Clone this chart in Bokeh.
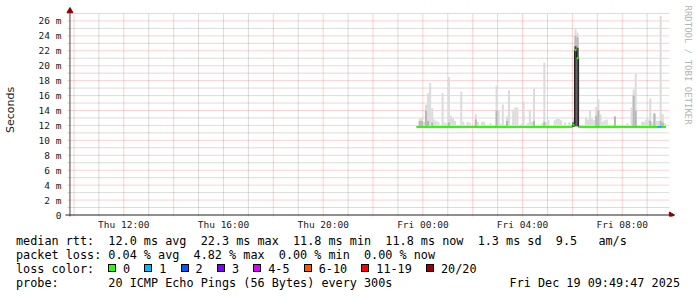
import math
from bokeh.plotting import figure
from bokeh.layouts import column
from bokeh.models import FixedTicker, Range1d, Div
from bokeh.core.properties import value
from bokeh.embed import file_html
from bokeh.resources import INLINE

# ---------------- data ----------------
# time is in hours since Thu Dec 18 2025 00:00
view_start_h = 9 + 49 / 60 + 47 / 3600      # Thu 09:49:47
view_end_h = view_start_h + 24              # Fri 09:49:47
first_step_h = 23.75                        # Thu 23:45
step_h = 5 / 60                             # 300 s steps

x_tick_hours = [12, 16, 20, 24, 28, 32]
x_tick_labels = ["Thu 12:00", "Thu 16:00", "Thu 20:00", "Fri 00:00", "Fri 04:00", "Fri 08:00"]
x_grid_major_h = [10, 12, 14, 16, 18, 20, 22, 24, 26, 28, 30, 32]
x_grid_minor_h = [11, 13, 15, 17, 19, 21, 23, 25, 27, 29, 31, 33]
y_ticks_ms = [0, 2, 4, 6, 8, 10, 12, 14, 16, 18, 20, 22, 24, 26]
y_tick_labels = ["0", "2 m", "4 m", "6 m", "8 m", "10 m", "12 m", "14 m", "16 m",
                 "18 m", "20 m", "22 m", "24 m", "26 m"]
y_grid_minor_ms = [1, 3, 5, 7, 9, 11, 13, 15, 17, 19, 21, 23, 25, 27]

median_ms = [
    11.8, 11.8, 11.8, 11.8, 11.8, 11.8, 11.8, 11.8, 11.8, 11.8, 11.8, 11.8,
    11.8, 11.8, 11.8, 11.8, 11.8, 11.8, 11.8, 11.8, 11.8, 11.8, 11.8, 11.8,
    11.8, 11.8, 11.8, 11.8, 11.8, 11.8, 11.8, 11.8, 11.8, 11.8, 11.8, 11.8,
    11.8, 11.8, 11.8, 11.8, 11.8, 11.8, 11.8, 11.8, 11.8, 11.8, 11.8, 11.8,
    11.8, 11.8, 11.8, 11.8, 11.8, 11.8, 11.8, 11.8, 11.8, 11.8, 11.8, 11.8,
    11.8, 11.8, 11.8, 11.8, 11.8, 11.8, 11.8, 11.8, 11.8, 11.8, 11.8, 11.8,
    11.8, 11.8, 11.8, 12.1, 22.1, 21.0, 11.8, 11.8, 11.8, 11.8, 11.8, 11.8,
    11.8, 11.8, 11.8, 11.8, 11.8, 11.8, 11.8, 11.8, 11.8, 11.8, 11.8, 11.8,
    11.8, 11.8, 11.8, 11.8, 11.8, 11.8, 11.8, 11.8, 11.8, 11.8, 11.8, 11.8,
    11.8, 11.8, 11.8, 11.8, 11.8, 11.8, 11.8, 11.8, 11.8, 11.8, 11.8, 11.8,
]
rtt_min_ms = [
    11.8, 11.8, 11.8, 11.8, 11.8, 11.8, 11.8, 11.8, 11.8, 11.8, 11.8, 11.8,
    11.8, 11.8, 11.8, 11.8, 11.8, 11.8, 11.8, 11.8, 11.8, 11.8, 11.8, 11.8,
    11.8, 11.8, 11.8, 11.8, 11.8, 11.8, 11.8, 11.8, 11.8, 11.8, 11.8, 11.8,
    11.8, 11.8, 11.8, 11.8, 11.8, 11.8, 11.8, 11.8, 11.8, 11.8, 11.8, 11.8,
    11.8, 11.8, 11.8, 11.8, 11.8, 11.8, 11.8, 11.8, 11.8, 11.8, 11.8, 11.8,
    11.8, 11.8, 11.8, 11.8, 11.8, 11.8, 11.8, 11.8, 11.8, 11.8, 11.8, 11.8,
    11.8, 11.8, 11.8, 11.8, 11.9, 11.9, 11.8, 11.8, 11.8, 11.8, 11.8, 11.8,
    11.8, 11.8, 11.8, 11.8, 11.8, 11.8, 11.8, 11.8, 11.8, 11.8, 11.8, 11.8,
    11.8, 11.8, 11.8, 11.8, 11.8, 11.8, 11.8, 11.8, 11.8, 11.8, 11.8, 11.8,
    11.8, 11.8, 11.8, 11.8, 11.8, 11.8, 11.8, 11.8, 11.8, 11.8, 11.8, 11.8,
]
smoke_max_ms = [
    12.0, 12.9, 13.1, 12.5, 14.8, 16.3, 17.7, 14.3, 12.8, 12.6, 12.5, 12.0,
    16.3, 12.4, 12.3, 18.5, 13.3, 13.0, 12.6, 12.0, 12.0, 16.5, 12.5, 12.0,
    12.5, 12.4, 12.0, 12.0, 13.5, 12.5, 12.0, 12.5, 12.5, 12.0, 12.0, 12.3,
    12.0, 12.0, 17.3, 14.0, 12.2, 14.8, 12.1, 13.2, 16.7, 12.0, 14.1, 14.4,
    14.4, 12.0, 12.2, 15.2, 12.0, 12.3, 14.1, 12.5, 16.9, 12.0, 12.0, 12.0,
    12.3, 20.4, 12.4, 12.7, 12.0, 12.0, 12.7, 12.9, 12.9, 12.7, 12.0, 12.4,
    12.0, 12.4, 12.0, 13.0, 24.9, 24.4, 12.0, 12.0, 12.0, 13.1, 12.8, 14.0,
    12.9, 12.7, 14.5, 15.5, 13.5, 12.5, 12.7, 12.8, 12.0, 12.0, 12.0, 13.2,
    12.0, 12.0, 12.0, 12.0, 12.0, 12.3, 12.0, 14.4, 16.8, 18.9, 12.0, 12.0,
    12.5, 12.5, 12.8, 12.8, 15.6, 12.4, 13.6, 12.6, 12.6, 26.7, 13.5, 12.3,
]
smoke_mid_ms = [
    11.8, 12.6, 12.6, 11.8, 14.0, 12.6, 11.8, 12.4, 11.8, 11.8, 11.8, 11.8,
    11.8, 11.8, 11.8, 12.4, 11.8, 11.8, 11.8, 11.8, 11.8, 11.8, 11.8, 11.8,
    11.8, 11.8, 11.8, 11.8, 12.8, 11.8, 11.8, 11.8, 11.8, 11.8, 11.8, 11.8,
    11.8, 11.8, 14.0, 11.8, 11.8, 11.8, 11.8, 12.6, 11.8, 11.8, 11.8, 11.8,
    11.8, 11.8, 11.8, 11.8, 11.8, 11.8, 11.8, 11.8, 12.6, 11.8, 11.8, 11.8,
    11.8, 12.5, 11.8, 11.8, 11.8, 11.8, 11.8, 11.8, 11.8, 11.8, 11.8, 11.8,
    11.8, 11.8, 11.8, 12.5, 24.0, 23.8, 11.8, 11.8, 11.8, 11.8, 11.8, 11.8,
    11.8, 11.8, 13.3, 14.0, 11.8, 11.8, 11.8, 11.8, 11.8, 11.8, 11.8, 13.2,
    11.8, 11.8, 11.8, 11.8, 11.8, 11.8, 11.8, 11.8, 16.0, 14.0, 11.8, 11.8,
    11.8, 11.8, 11.8, 11.8, 12.6, 11.8, 13.6, 11.8, 11.8, 12.6, 12.4, 11.8,
]
smoke_dark_ms = [
    11.8, 11.8, 11.8, 11.8, 11.8, 11.8, 11.8, 11.8, 11.8, 11.8, 11.8, 11.8,
    11.8, 11.8, 11.8, 11.8, 11.8, 11.8, 11.8, 11.8, 11.8, 11.8, 11.8, 11.8,
    11.8, 11.8, 11.8, 11.8, 11.8, 11.8, 11.8, 11.8, 11.8, 11.8, 11.8, 11.8,
    11.8, 11.8, 11.8, 11.8, 11.8, 11.8, 11.8, 11.8, 11.8, 11.8, 11.8, 11.8,
    11.8, 11.8, 11.8, 11.8, 11.8, 11.8, 11.8, 11.8, 11.8, 11.8, 11.8, 11.8,
    11.8, 11.8, 11.8, 11.8, 11.8, 11.8, 11.8, 11.8, 11.8, 11.8, 11.8, 11.8,
    11.8, 11.8, 11.8, 12.4, 22.6, 22.4, 11.8, 11.8, 11.8, 11.8, 11.8, 11.8,
    11.8, 11.8, 11.8, 11.8, 11.8, 11.8, 11.8, 11.8, 11.8, 11.8, 11.8, 11.8,
    11.8, 11.8, 11.8, 11.8, 11.8, 11.8, 11.8, 11.8, 11.8, 11.8, 11.8, 11.8,
    11.8, 11.8, 11.8, 11.8, 11.8, 11.8, 11.8, 11.8, 11.8, 11.8, 11.8, 11.8,
]
loss_count = [
    0, 0, 0, 0, 0, 0, 0, 0, 0, 0, 0, 0,
    0, 0, 0, 0, 0, 0, 0, 0, 0, 0, 0, 0,
    0, 0, 0, 0, 0, 0, 0, 0, 0, 0, 0, 0,
    0, 0, 0, 0, 0, 0, 0, 0, 0, 0, 0, 0,
    0, 0, 0, 0, 0, 0, 0, 0, 0, 0, 0, 0,
    0, 0, 0, 0, 0, 0, 0, 0, 0, 0, 0, 0,
    0, 0, 0, 0, 0, 0, 0, 0, 0, 0, 0, 0,
    0, 0, 0, 0, 0, 0, 0, 0, 0, 0, 0, 0,
    0, 0, 0, 0, 0, 0, 0, 0, 0, 0, 0, 0,
    0, 0, 0, 0, 0, 0, 0, 0, 1, 1, 0, 0,
]

loss_classes = ["0", "1", "2", "3", "4-5", "6-10", "11-19", "20/20"]
loss_upper = [0, 1, 2, 3, 5, 10, 19, 20]
loss_colors = ["#26ff00", "#00b8ff", "#0059ff", "#7e00ff", "#dd00ff", "#ff5500", "#ff0000", "#a10000"]

rtt_row = [("median rtt:", 0), ("12.0 ms avg", 13), ("22.3 ms max", 26), ("11.8 ms min", 39),
           ("11.8 ms now", 52), ("1.3 ms sd", 65), ("9.5", 76), ("am/s", 82)]
loss_row = [("packet loss:", 0), ("0.04 % avg", 13), ("4.82 % max", 25), ("0.00 % min", 37),
            ("0.00 % now", 49)]
probe_row = [("probe:", 0), ("20 ICMP Echo Pings (56 Bytes) every 300s", 13)]
stamp_text = "Fri Dec 19 09:49:47 2025"
y_title = "Seconds"
watermark = "RRDTOOL / TOBI OETIKER"

# ---------------- geometry ----------------
W = 697
H_TOP = 232
H_BOT = 297 - H_TOP
FL, FR, FT, FB = 60, 697, 3, 217       # frame box of the chart figure
PX_H, PX_MS = 25.0, 7.5                # pixels per hour / per ms
X_ANCHOR_PX = 71.5                     # where 10:00 falls
Y_ZERO_PX = 215.5                      # where 0 ms falls
x_lo = 10 - (X_ANCHOR_PX - FL) / PX_H
x_hi = x_lo + (FR - FL) / PX_H
y_lo = -(FB - Y_ZERO_PX) / PX_MS
y_hi = (Y_ZERO_PX - FT) / PX_MS

def dx(px):
    return x_lo + (px - FL) / PX_H

def dy(py):
    return (Y_ZERO_PX - py) / PX_MS

p = figure(width=W, height=H_TOP, output_backend="svg", toolbar_location=None,
           x_range=Range1d(x_lo, x_hi), y_range=Range1d(y_lo, y_hi),
           min_border_left=FL, min_border_right=W - FR, min_border_top=FT,
           min_border_bottom=H_TOP - FB)
p.outline_line_color = None
p.background_fill_color = "white"
p.border_fill_color = "white"
p.xgrid.visible = False
p.ygrid.visible = False

# axes (labels only; the axis lines are drawn below with arrows)
p.xaxis.ticker = FixedTicker(ticks=x_tick_hours)
p.xaxis.major_label_overrides = dict(zip(x_tick_hours, x_tick_labels))
p.yaxis.ticker = FixedTicker(ticks=y_ticks_ms)
p.yaxis.major_label_overrides = dict(zip(y_ticks_ms, y_tick_labels))
for ax in (p.xaxis, p.yaxis):
    ax.axis_line_color = None
    ax.minor_tick_line_color = None
    ax.major_tick_line_color = None
    ax.major_tick_in = 0
    ax.major_tick_out = 0
    ax.major_label_text_font = "DejaVu Sans Mono"
    ax.major_label_text_font_size = "9.5px"
    ax.major_label_text_color = "#202020"
p.xaxis.major_label_standoff = 2
p.yaxis.major_label_standoff = 1
p.yaxis.axis_label = y_title
p.yaxis.axis_label_text_font = "DejaVu Sans"
p.yaxis.axis_label_text_font_style = "normal"
p.yaxis.axis_label_text_font_size = "11px"
p.yaxis.axis_label_text_color = "#202020"
p.yaxis.axis_label_standoff = 19

# grid (dotted, red major / grey minor), limited to the graph area
g_top, g_bot = dy(13), dy(218)
g_left, g_right = dx(65), dx(669)
p.segment(x0=x_grid_minor_h, x1=x_grid_minor_h, y0=[g_bot] * len(x_grid_minor_h),
          y1=[g_top] * len(x_grid_minor_h), line_color="#9a9a9a", line_alpha=0.7,
          line_dash="1 1", line_width=1)
p.segment(x0=[g_left] * len(y_grid_minor_ms), x1=[g_right] * len(y_grid_minor_ms),
          y0=y_grid_minor_ms, y1=y_grid_minor_ms, line_color="#9a9a9a", line_alpha=0.7,
          line_dash="1 1", line_width=1)
p.segment(x0=x_grid_major_h, x1=x_grid_major_h, y0=[g_bot] * len(x_grid_major_h),
          y1=[g_top] * len(x_grid_major_h), line_color="#ff3030", line_alpha=0.45,
          line_dash="1 1", line_width=1)
maj_y = y_ticks_ms[1:]
p.segment(x0=[g_left] * len(maj_y), x1=[g_right] * len(maj_y), y0=maj_y, y1=maj_y,
          line_color="#ff3030", line_alpha=0.45, line_dash="1 1", line_width=1)

# smoke
n = len(median_ms)
left = [first_step_h + i * step_h for i in range(n)]
right = [first_step_h + (i + 1) * step_h for i in range(n)]
p.quad(left=left, right=right, bottom=rtt_min_ms, top=smoke_max_ms,
       fill_color="#dcdcdc", line_color=None)
p.quad(left=left, right=right, bottom=rtt_min_ms, top=smoke_mid_ms,
       fill_color="#b8b8b8", line_color=None)
p.quad(left=left, right=right, bottom=rtt_min_ms, top=smoke_dark_ms,
       fill_color="#484848", line_color=None)

# median: thin dark step line, then loss-coloured segments
p.step(x=left + [right[-1]], y=median_ms + [median_ms[-1]], mode="after",
       line_color="#202020", line_width=1)

def loss_color(c):
    for up, col in zip(loss_upper, loss_colors):
        if c <= up:
            return col
    return loss_colors[-1]

seg_cols = [loss_color(c) for c in loss_count]
p.segment(x0=left, x1=right, y0=median_ms, y1=median_ms, line_color=seg_cols,
          line_width=2, line_cap="butt")

# axis lines and arrow heads
ax_x = dx(67.5)
p.segment(x0=[ax_x], x1=[ax_x], y0=[dy(218)], y1=[dy(12)], line_color="#404040", line_width=1)
p.segment(x0=[dx(63)], x1=[dx(669)], y0=[0], y1=[0], line_color="#202020", line_width=1)
p.scatter(x=[ax_x], y=[dy(10.5)], marker="triangle", size=6,
          fill_color="#8b0000", line_color="#8b0000")
p.scatter(x=[dx(670.5)], y=[0], marker="triangle", size=6, angle=-math.pi / 2,
          fill_color="#8b0000", line_color="#8b0000")

# watermark
p.text(x=[dx(687)], y=[dy(5)], text=[watermark], angle=-math.pi / 2,
       text_align="left", text_baseline="middle", text_font=value("DejaVu Sans Mono"),
       text_font_size=value("9px"), text_color="#b4b4b4")

# ---------------- legend strip (HTML text) ----------------
CW = 7.1
X0 = 16
FONT = "font-family:'DejaVu Sans Mono',monospace;font-size:11.8px;line-height:14px;color:#000;"

def row_text(row):
    s = ""
    for txt, col in row:
        s = s.ljust(col) + txt
    return s

def esc(s):
    return s.replace("&", "&amp;").replace("<", "&lt;").replace(">", "&gt;")

def line_div(txt, top, left=X0, extra=""):
    return ('<div style="position:absolute;left:%.1fpx;top:%dpx;white-space:pre;%s%s">%s</div>'
            % (left, top, FONT, extra, esc(txt)))

parts = [line_div(row_text(rtt_row), 2), line_div(row_text(loss_row), 16),
         line_div("loss color:", 30), line_div(row_text(probe_row), 44)]
parts.append('<div style="position:absolute;right:%dpx;top:44px;white-space:pre;%s">%s</div>'
             % (W - 680, FONT, esc(stamp_text)))
bx = 108.0
for name, colr in zip(loss_classes, loss_colors):
    parts.append('<div style="position:absolute;left:%.1fpx;top:32px;width:8px;height:8px;'
                 'background:%s;border:1px solid #000;"></div>' % (bx, colr))
    parts.append(line_div(name, 30, left=bx + 15))
    bx += 15 + (len(name) + 2) * CW

legend_html = ('<div style="position:relative;width:%dpx;height:%dpx;margin:0;padding:0;'
               'background:#fff;">%s</div>' % (W, H_BOT, "".join(parts)))
legend = Div(text=legend_html, width=W, height=H_BOT, margin=(0, 0, 0, 0))

layout = column(p, legend, spacing=0)
open("out.html", "w").write(file_html(layout, INLINE))
